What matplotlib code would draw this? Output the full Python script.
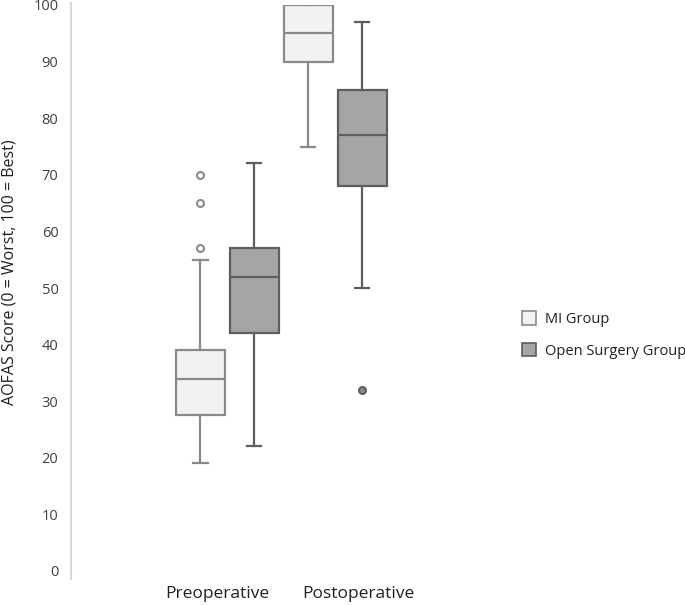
import matplotlib
matplotlib.use("Agg")
import matplotlib.pyplot as plt
from matplotlib.patches import Patch

# ---- data ----
groups = ["MI Group", "Open Surgery Group"]
categories = ["Preoperative", "Postoperative"]
# per category, per group: [whislo, q1, med, q3, whishi]
mi_stats = [[19, 27.5, 34, 39, 55], [75, 90, 95, 100, 100]]
open_stats = [[22, 42, 52, 57, 72], [50, 68, 77, 85, 97]]
mi_fliers = [[57, 65, 70], []]
open_fliers = [[], [32]]
yticks = [0, 10, 20, 30, 40, 50, 60, 70, 80, 90, 100]

fill = {"MI Group": "#f2f2f2", "Open Surgery Group": "#a5a5a5"}
edge = {"MI Group": "#8a8a8a", "Open Surgery Group": "#5e5e5e"}
flier_face = {"MI Group": "white", "Open Surgery Group": "#8a8a8a"}

plt.rcParams["font.family"] = ["Open Sans", "DejaVu Sans"]

fig = plt.figure(figsize=(6.85, 6.05), dpi=100)
W, H = 685, 605
ax_left, ax_right, ax_top, ax_bot = 71, 480, 5, 571
ax = fig.add_axes([ax_left / W, 1 - ax_bot / H, (ax_right - ax_left) / W, (ax_bot - ax_top) / H])

offset = 0.25
width = 0.45
for gi, (g, stats, fl) in enumerate([("MI Group", mi_stats, mi_fliers),
                                      ("Open Surgery Group", open_stats, open_fliers)]):
    bstats = []
    for ci, s in enumerate(stats):
        bstats.append(dict(whislo=s[0], q1=s[1], med=s[2], q3=s[3], whishi=s[4],
                           fliers=fl[ci], label=""))
    pos = [ci + 1 + (-offset if gi == 0 else offset) for ci in range(len(stats))]
    lw = 1.6
    ax.bxp(bstats, positions=pos, widths=width, patch_artist=True, showfliers=True,
           capwidths=0.13,
           boxprops=dict(facecolor=fill[g], edgecolor=edge[g], linewidth=lw),
           medianprops=dict(color=edge[g], linewidth=lw),
           whiskerprops=dict(color=edge[g], linewidth=lw),
           capprops=dict(color=edge[g], linewidth=lw),
           flierprops=dict(marker="o", markersize=5, markerfacecolor=flier_face[g],
                           markeredgecolor=edge[g], markeredgewidth=1.5))

ax.set_ylim(0, 100)
ax.set_xlim(-0.45, 3.34)
ax.set_yticks(yticks)
ax.set_yticklabels([str(t) for t in yticks], fontsize=10.5, color="#404040")
ax.tick_params(axis="y", length=0, pad=9)
ax.set_xticks([1 - 0.09, 2 + 0.21])
ax.set_xticklabels(categories, fontsize=12.5, color="#202020")
ax.tick_params(axis="x", length=0, pad=11)
for s in ["top", "right", "bottom"]:
    ax.spines[s].set_visible(False)
ax.spines["left"].set_color("#d9d9d9")
ax.spines["left"].set_linewidth(1.5)
ax.spines["left"].set_bounds(-1.5, 100.3)
ax.set_clip_on(False)

fig.text(10 / W, 1 - 272 / H, "AOFAS Score (0 = Worst, 100 = Best)", rotation=90,
         ha="center", va="center", fontsize=11.5, color="#202020")

handles = [Patch(facecolor=fill[g], edgecolor=edge[g], linewidth=1.2, label=g) for g in groups]
fig.legend(handles=handles, loc="center left", bbox_to_anchor=(516 / W, 1 - 335 / H),
           frameon=False, fontsize=10.5, handlelength=1.0, handleheight=1.0,
           labelspacing=1.1, handletextpad=0.6, borderaxespad=0, labelcolor="#202020")

fig.savefig("out.png", dpi=100)
